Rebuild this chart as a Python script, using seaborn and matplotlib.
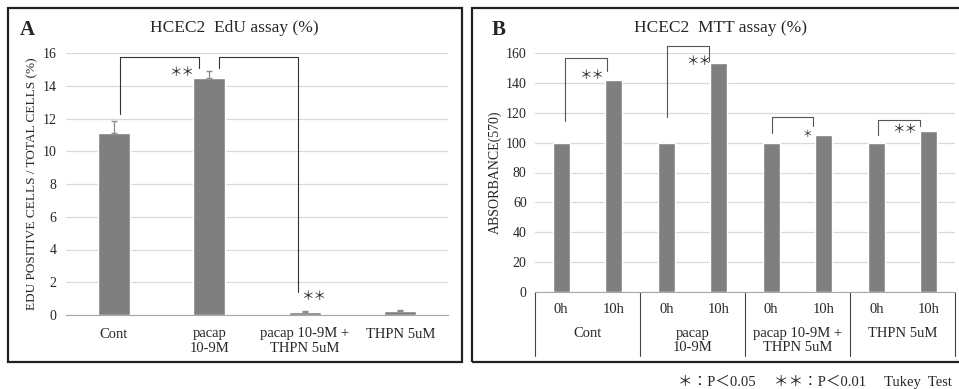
import pandas as pd
import matplotlib.pyplot as plt
import seaborn as sns
from matplotlib.patches import Rectangle

# data
edu_groups = ['Cont', 'pacap\n10-9M', 'pacap 10-9M +\nTHPN 5uM', 'THPN 5uM']
edu_values = [11.1, 14.5, 0.2, 0.25]
edu_errors = [0.75, 0.4, 0.05, 0.08]

mtt_groups = ['Cont', 'pacap\n10-9M', 'pacap 10-9M +\nTHPN 5uM', 'THPN 5uM']
mtt_times = ['0h', '10h']
mtt_values = [100, 141.7, 100, 153.2, 100, 105.0, 100, 107.6]

W, H = 959, 389
BAR = '#7f7f7f'
GRID = '#d9d9d9'

sns.set_style('white')
plt.rcParams['font.family'] = ['Liberation Serif', 'Noto Sans CJK JP']
plt.rcParams['axes.unicode_minus'] = False


def fx(px):
    return px / W


def fy(py):
    return 1 - py / H


fig = plt.figure(figsize=(W / 100, H / 100), dpi=100)

# panel frames
fig.patches.append(Rectangle((fx(8), fy(362)), fx(454), 354 / H, fill=False,
                             edgecolor='#222222', lw=1.6, transform=fig.transFigure))
fig.patches.append(Rectangle((fx(472), fy(362)), fx(500), 354 / H, fill=False,
                             edgecolor='#222222', lw=1.6, transform=fig.transFigure))


def style_axes(ax, top, n):
    ax.set_ylim(0, top)
    ax.set_xlim(-0.5, n - 0.5)
    ax.yaxis.grid(True, color=GRID, lw=0.9)
    ax.set_axisbelow(True)
    for s in ['left', 'right', 'top']:
        ax.spines[s].set_visible(False)
    ax.spines['bottom'].set_color('#a6a6a6')
    ax.tick_params(axis='both', length=0)
    ax.set_xlabel('')


def bracket(ax, x0, y0, x1, y1, top, color):
    ax.plot([x0, x0, x1, x1], [y0, top, top, y1], color=color, lw=0.8, clip_on=False)


# ---------------- panel A ----------------
ax1 = fig.add_axes([fx(66), fy(315), fx(448 - 66), (315 - 53) / H])
dfa = pd.DataFrame({'group': edu_groups, 'value': edu_values})
sns.barplot(data=dfa, x='group', y='value', color=BAR, width=0.33, saturation=1, ax=ax1)
ax1.errorbar(range(len(edu_values)), edu_values, yerr=[[0] * 4, edu_errors], fmt='none',
             ecolor='#8c8c8c', elinewidth=0.9, capsize=2.5)
style_axes(ax1, 16, len(edu_groups))
ax1.set_yticks(range(0, 17, 2))
ax1.set_ylabel('EDU POSITIVE CELLS / TOTAL CELLS (%)', fontsize=9.5, labelpad=3)
ax1.tick_params(axis='x', labelsize=10.5, pad=9)
ax1.tick_params(axis='y', labelsize=10, pad=7)

bracket(ax1, 0.07, 12.3, 0.895, 15.1, 15.75, '#333333')
bracket(ax1, 1.105, 15.1, 1.93, 1.4, 15.75, '#333333')
ax1.text(0.71, 14.8, '＊＊', fontsize=9, ha='center', va='center', family='Noto Sans CJK JP')
ax1.text(2.09, 1.1, '＊＊', fontsize=9, ha='center', va='center', family='Noto Sans CJK JP')

fig.text(fx(234), fy(28), 'HCEC2  EdU assay (%)', fontsize=12.5, ha='center', va='center')
fig.text(fx(27), fy(30), 'A', fontsize=15, fontweight='bold', ha='center', va='center')

# ---------------- panel B ----------------
ax2 = fig.add_axes([fx(535), fy(292), fx(955 - 535), (292 - 53) / H])
dfb = pd.DataFrame({
    'bar': [f'{g} {t}' for g in mtt_groups for t in mtt_times],
    'time': [t for g in mtt_groups for t in mtt_times],
    'value': mtt_values,
})
sns.barplot(data=dfb, x='bar', y='value', color=BAR, width=0.33, saturation=1, ax=ax2)
style_axes(ax2, 160, len(dfb))
ax2.set_yticks(range(0, 161, 20))
ax2.set_xticks(range(len(dfb)))
ax2.set_xticklabels([])
ax2.set_ylabel('ABSORBANCE(570)', fontsize=10, labelpad=3)
ax2.tick_params(axis='y', labelsize=10, pad=6)

xt = ax2.get_xaxis_transform()
for i, t in enumerate(dfb['time']):
    ax2.text(i, -0.045, t, transform=xt, fontsize=10.5, ha='center', va='top')
for k, g in enumerate(mtt_groups):
    ax2.text(2 * k + 0.5, -0.145, g, transform=xt, fontsize=10.5, ha='center', va='top',
             linespacing=1.1)
for xs in [-0.5, 1.5, 3.5, 5.5, 7.5]:
    ax2.plot([xs, xs], [0, -0.268], transform=xt, color='#444444', lw=0.8, clip_on=False)

bc = '#555555'
bracket(ax2, 0.08, 114.5, 0.88, 148, 156.6, bc)
bracket(ax2, 2.02, 117, 2.82, 154.6, 164.6, bc)
bracket(ax2, 4.02, 106.4, 4.8, 111, 117, bc)
bracket(ax2, 6.04, 105, 6.84, 111, 115, bc)
ax2.text(0.57, 145, '＊＊', fontsize=9, ha='center', va='center', family='Noto Sans CJK JP')
ax2.text(2.61, 154, '＊＊', fontsize=9, ha='center', va='center', family='Noto Sans CJK JP')
ax2.text(4.69, 106, '＊', fontsize=7, ha='center', va='center', family='Noto Sans CJK JP')
ax2.text(6.53, 109, '＊＊', fontsize=9, ha='center', va='center', family='Noto Sans CJK JP')

fig.text(fx(720), fy(28), 'HCEC2  MTT assay (%)', fontsize=12.5, ha='center', va='center')
fig.text(fx(499), fy(30), 'B', fontsize=15, fontweight='bold', ha='center', va='center')

fig.text(fx(952), fy(382), '＊：P＜0.05　 ＊＊：P＜0.01　 Tukey  Test', fontsize=10.5,
         ha='right', va='center')

fig.savefig('out.png', dpi=100)
